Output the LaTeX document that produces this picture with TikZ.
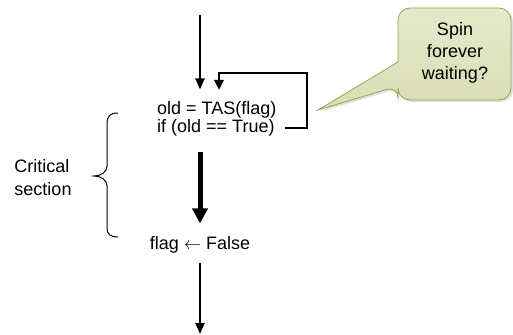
\documentclass[tikz,border=0pt]{standalone}
\usepackage{fontspec}
\setmainfont{Liberation Sans}
\usetikzlibrary{arrows.meta}
\definecolor{noteFill}{RGB}{217,222,180}
\definecolor{noteTop}{RGB}{229,233,203}
\definecolor{noteEdge}{RGB}{150,163,82}
\begin{document}
\begin{tikzpicture}[x=1pt,y=-1pt,
  txt/.style={font=\fontsize{18}{18}\selectfont, inner sep=0pt},
  flow/.style={line width=2pt, -{Triangle[width=9pt,length=11pt]}},
  bigflow/.style={line width=5pt, -{Triangle[width=15pt,length=15pt]}},
  loopline/.style={line width=2.5pt, -{Triangle[width=9pt,length=10pt]}}]
\useasboundingbox (0,0) rectangle (513,334);

% statements
\node[txt, anchor=west] (tas) at (157,110) {old = TAS(flag)};
\node[txt, anchor=west] (cond) at (157,128) {if (old == True)};
\node[txt] (release) at (200,245) {flag \ensuremath{\leftarrow} False};
\node[txt, align=left, font=\fontsize{18}{23}\selectfont] (crit) at (43,178) {Critical\\section};

% control flow
\coordinate (entry) at (200,15);
\coordinate (exit) at (200,334);
\coordinate (loopR) at (307,73);
\coordinate (loopL) at (219,90);
\draw[flow, shorten >=12pt] (entry) -- (entry |- tas.north);
\draw[loopline] ([xshift=10pt]cond.east) -| (loopR) -| (loopL);
\draw[bigflow, shorten <=15pt, shorten >=13pt] (entry |- cond.south) -- (entry |- release.north);
\draw[flow, shorten <=9pt] (entry |- release.south) -- (exit);

% brace around the critical section
\draw[line width=1pt] (118,113) .. controls (110,113) and (107,116) .. (107,124)
  -- (107,166) .. controls (107,172) and (101,176) .. (94,176)
  .. controls (101,176) and (107,180) .. (107,186)
  -- (107,228) .. controls (107,234) and (110,237) .. (118,237);

% speech callout
\fill[black, opacity=0.12] (320,112) -- (400,64) [rounded corners=12pt] -- (400,10) -- (513,10) -- (513,102) -- (400,102) -- (400,88) [sharp corners] -- cycle;
\draw[noteEdge, line width=0.8pt, top color=noteTop, bottom color=noteFill]
  (318,110) -- (398,62) [rounded corners=12pt] -- (398,8) -- (511,8) -- (511,100) -- (398,100) -- (398,86) [sharp corners] -- cycle;
\node[txt, align=center, font=\fontsize{18}{22}\selectfont] (spin) at (455,53) {Spin\\forever\\waiting?};
\end{tikzpicture}
\end{document}
